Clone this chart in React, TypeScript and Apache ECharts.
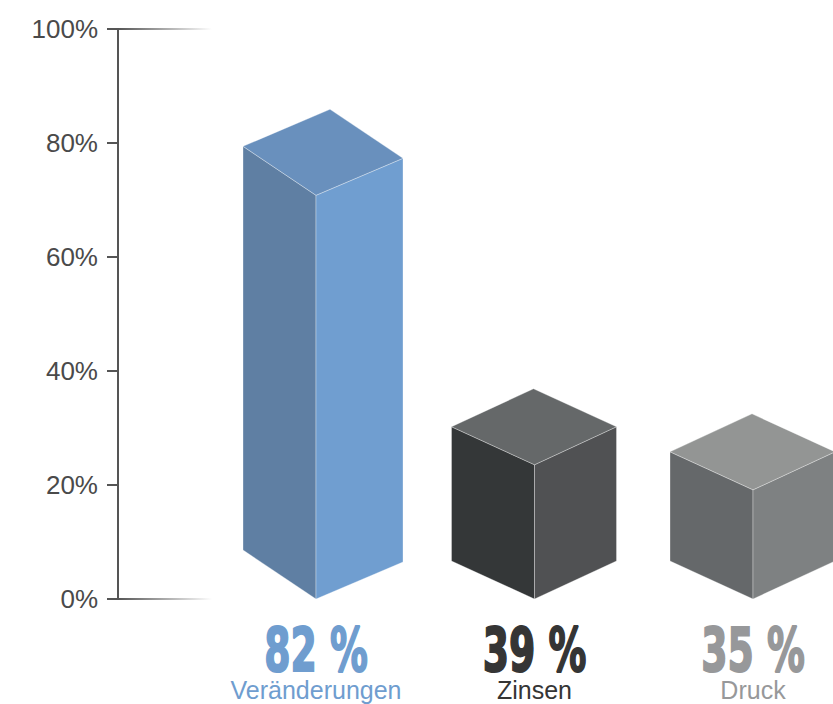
import React, { useEffect, useRef } from "react";
import * as echarts from "echarts";

// ---- data ----
const CATEGORIES = ["Veränderungen", "Zinsen", "Druck"];
const VALUES = [82, 39, 35];
const Y_MIN = 0;
const Y_MAX = 100;
const Y_INTERVAL = 20;

// ---- styles (not data) ----
const FACE_COLORS = [
  { left: "#5f7fa3", right: "#709ed0", top: "#6990bd", text: "#6f9dcf" },
  { left: "#343738", right: "#505153", top: "#656869", text: "#353535" },
  { left: "#65686a", right: "#7e8182", top: "#939594", text: "#97989a" },
];
// isometric offsets of the side faces for each box
const BOX_SHAPES = [
  { ldx: 73, ldy: 49, rdx: 87, rdy: 37 },
  { ldx: 83, ldy: 38, rdx: 82, rdy: 38 },
  { ldx: 83, ldy: 38, rdx: 82, rdy: 38 },
];
// drawing scale of the decorative boxes (hidden axis)
const BOX_AXIS_MIN = 17.58;
const BOX_AXIS_MAX = 108.54;

export default function App() {
  const ref = useRef<HTMLDivElement>(null);

  useEffect(() => {
    if (!ref.current) return;
    const chart = echarts.init(ref.current, undefined, { renderer: "svg" });

    const seriesData = VALUES.map((v, i) => [i, v]);

    const renderItem = (params: any, api: any) => {
      const i = params.dataIndex;
      const v = api.value(1);
      const top = api.coord([i, v]);
      const base = api.coord([i, BOX_AXIS_MIN]);
      const cx = top[0];
      const yt = top[1];
      const y0 = base[1];
      const s = BOX_SHAPES[i];
      const c = FACE_COLORS[i];
      const F0 = [cx, y0];
      const L0 = [cx - s.ldx, y0 - s.ldy];
      const R0 = [cx + s.rdx, y0 - s.rdy];
      const F1 = [cx, yt];
      const L1 = [cx - s.ldx, yt - s.ldy];
      const R1 = [cx + s.rdx, yt - s.rdy];
      const B1 = [cx - s.ldx + s.rdx, yt - s.ldy - s.rdy];
      const edge = { stroke: "rgba(255,255,255,0.45)", lineWidth: 0.7 };
      return {
        type: "group",
        children: [
          {
            type: "polygon",
            shape: { points: [L0, F0, F1, L1] },
            style: { fill: c.left, ...edge },
          },
          {
            type: "polygon",
            shape: { points: [F0, R0, R1, F1] },
            style: { fill: c.right, ...edge },
          },
          {
            type: "polygon",
            shape: { points: [F1, R1, B1, L1] },
            style: { fill: c.top, ...edge },
          },
          {
            type: "text",
            x: cx,
            y: y0 + 51,
            scaleX: 0.63,
            style: {
              text: `${VALUES[i]} %`,
              x: 0,
              y: 0,
              align: "center",
              verticalAlign: "middle",
              fill: c.text,
              stroke: c.text,
              lineWidth: 2,
              fontSize: 60,
              fontWeight: "bold",
              fontFamily: "'DejaVu Sans', sans-serif",
            },
          },
          {
            type: "text",
            x: cx,
            y: y0 + 91,
            style: {
              text: CATEGORIES[i],
              x: 0,
              y: 0,
              align: "center",
              verticalAlign: "middle",
              fill: c.text,
              fontSize: 25,
              fontFamily: "'Liberation Sans', Arial, sans-serif",
            },
          },
        ],
      };
    };

    chart.setOption({
      animation: false,
      grid: { left: 316, top: 29, height: 570, right: 80 },
      xAxis: {
        type: "category",
        data: CATEGORIES,
        boundaryGap: false,
        show: false,
      },
      yAxis: [
        {
          type: "value",
          min: Y_MIN,
          max: Y_MAX,
          interval: Y_INTERVAL,
          position: "left",
          offset: 198,
          axisLine: { show: true, lineStyle: { color: "#555", width: 2 } },
          axisTick: { show: true, length: 11, lineStyle: { color: "#555", width: 2 } },
          axisLabel: {
            formatter: "{value}%",
            fontSize: 26,
            color: "#4a4a4a",
            margin: 20,
            padding: [0, 0, 8, 0],
            fontFamily: "'Liberation Sans', Arial, sans-serif",
          },
          splitLine: { show: false },
        },
        {
          type: "value",
          min: BOX_AXIS_MIN,
          max: BOX_AXIS_MAX,
          show: false,
          splitLine: { show: false },
        },
      ],
      series: [
        {
          type: "custom",
          yAxisIndex: 1,
          renderItem,
          data: seriesData,
          clip: false,
        },
      ],
    });

    const yTop = chart.convertToPixel({ yAxisIndex: 0 }, Y_MAX) as number;
    const yBottom = chart.convertToPixel({ yAxisIndex: 0 }, Y_MIN) as number;
    const grad = new echarts.graphic.LinearGradient(0, 0, 1, 0, [
      { offset: 0, color: "rgba(85,85,85,1)" },
      { offset: 1, color: "rgba(85,85,85,0)" },
    ]);
    const mkLine = (y: number) => ({
      type: "rect",
      shape: { x: 118, y: y - 1, width: 94, height: 2 },
      style: { fill: grad },
      silent: true,
    });
    chart.setOption({ graphic: [mkLine(yTop), mkLine(yBottom)] });

    return () => chart.dispose();
  }, []);

  return (
    <div
      ref={ref}
      style={{ position: "absolute", left: 0, top: 0, width: 833, height: 704 }}
    />
  );
}
